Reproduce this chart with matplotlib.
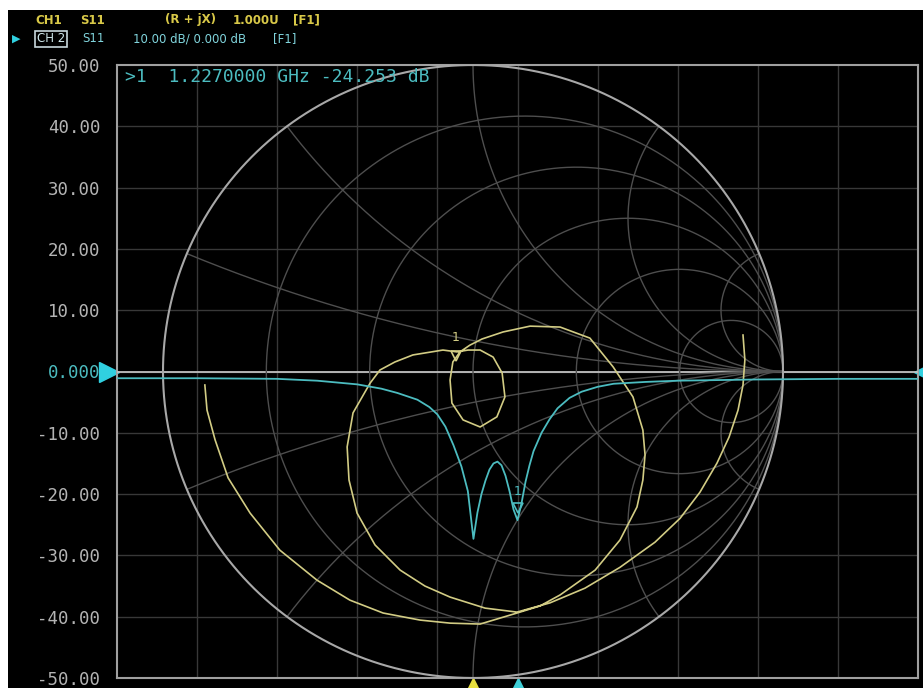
import matplotlib
matplotlib.use("Agg")
import matplotlib.pyplot as plt
import numpy as np
from matplotlib.patches import Rectangle

# screen size in pixels
W, H = 923, 688

# CH2: S11 log magnitude, x in graticule divisions (0..10)
logmag_div = [0.0, 1.0, 2.0, 2.5, 3.0, 3.3, 3.5, 3.75, 3.9, 4.0, 4.1, 4.2, 4.3,
              4.38, 4.45, 4.5, 4.55, 4.6, 4.65, 4.7, 4.75, 4.8, 4.85, 4.9, 4.95,
              5.0, 5.05, 5.1, 5.15, 5.2, 5.3, 5.4, 5.5, 5.65, 5.8, 6.0, 6.2,
              6.6, 7.0, 8.0, 9.0, 10.0]
logmag_db = [-1.1, -1.1, -1.2, -1.5, -2.1, -2.8, -3.5, -4.6, -5.8, -7.0, -9.0,
             -12.0, -15.5, -19.5, -27.3, -23.0, -20.0, -17.8, -16.0, -15.0,
             -14.7, -15.3, -17.0, -19.5, -22.5, -24.253, -21.5, -18.0, -15.3,
             -13.0, -10.0, -7.8, -6.0, -4.3, -3.3, -2.5, -2.0, -1.7, -1.5,
             -1.3, -1.2, -1.2]

# CH1: S11 on the Smith chart (real / imaginary part of the reflection coefficient)
smith_re = [0.871, 0.877, 0.871, 0.855, 0.826, 0.787, 0.732, 0.668, 0.587, 0.474,
            0.361, 0.248, 0.142, 0.039, -0.074, -0.155, -0.235, -0.316, -0.374,
            -0.400, -0.406, -0.387, -0.332, -0.300, -0.252, -0.194, -0.097,
            -0.052, -0.016, 0.023, 0.065, 0.094, 0.103, 0.077, 0.023, -0.032,
            -0.068, -0.074, -0.065, -0.042, -0.010, 0.029, 0.097, 0.184, 0.281,
            0.377, 0.452, 0.516, 0.548, 0.555, 0.548, 0.529, 0.474, 0.394, 0.281,
            0.216, 0.142, 0.023, -0.074, -0.171, -0.290, -0.397, -0.503, -0.623,
            -0.719, -0.790, -0.832, -0.858, -0.865]
smith_im = [0.119, 0.038, -0.044, -0.126, -0.214, -0.299, -0.394, -0.479, -0.557,
            -0.639, -0.707, -0.755, -0.785, -0.772, -0.736, -0.700, -0.648,
            -0.566, -0.462, -0.354, -0.246, -0.135, -0.038, 0.005, 0.031, 0.054,
            0.070, 0.064, 0.070, 0.070, 0.047, -0.005, -0.083, -0.148, -0.181,
            -0.158, -0.103, -0.028, 0.031, 0.064, 0.086, 0.106, 0.129, 0.148,
            0.145, 0.109, 0.015, -0.083, -0.191, -0.272, -0.354, -0.442, -0.550,
            -0.648, -0.729, -0.765, -0.788, -0.824, -0.821, -0.811, -0.788,
            -0.746, -0.681, -0.583, -0.462, -0.347, -0.223, -0.126, -0.044]

y_ticks = [50, 40, 30, 20, 10, 0, -10, -20, -30, -40, -50]
y_labels = ["50.00", "40.00", "30.00", "20.00", "10.00", "0.000",
            "-10.00", "-20.00", "-30.00", "-40.00", "-50.00"]

r_circles = [0.2, 0.5, 1.0, 2.0, 5.0]
x_arcs = [0.2, 0.5, 1.0, 2.0, 5.0]

marker_div = 5.0
marker_db = -24.253
marker_freq = "1.2270000 GHz"
smith_marker = (-0.055, 0.015)
stim_markers = {"#e8e040": 4.45, "#40d0d8": 5.0}

CYAN = "#4cbcc0"
YEL = "#d2cc84"
MONO = "DejaVu Sans Mono"


def px(x, y):
    # pixel position -> figure fraction
    return x / W, 1 - y / H


fig = plt.figure(figsize=(W / 100, H / 100), dpi=100, facecolor="white")
fig.add_artist(Rectangle((8 / W, 0), 1, 1 - 10 / H, transform=fig.transFigure,
                         facecolor="black", edgecolor="none", zorder=-10))

left, top, right, bottom = 117, 65, 918, 678
rect = [left / W, 1 - bottom / H, (right - left) / W, (bottom - top) / H]

ax = fig.add_axes(rect)
ax.set_facecolor("black")
ax.set_xlim(0, 10)
ax.set_ylim(-50, 50)
for i in range(1, 10):
    ax.axvline(i, color="#383838", lw=1)
for v in y_ticks[1:-1]:
    ax.axhline(v, color="#383838", lw=1)
ax.axhline(0, color="#c0c0c0", lw=1.3, zorder=3)
for s in ax.spines.values():
    s.set_color("#a0a0a0")
    s.set_linewidth(1.5)
ax.set_xticks([])
ax.set_yticks(y_ticks, labels=y_labels)
ax.tick_params(axis="y", length=0, pad=12, labelsize=12.5, labelcolor="#b4b4b4")
for lab in ax.get_yticklabels():
    lab.set_family(MONO)
ax.get_yticklabels()[5].set_color(CYAN)

# Smith chart overlay, centred at (473, 371.5) px with radius ~310 px
sax = fig.add_axes(rect)
sax.patch.set_alpha(0)
sax.axis("off")
sax.set_xlim((left - 473) / 310, (right - 473) / 310)
sax.set_ylim(-1, 1)

th = np.linspace(-np.pi / 2 + 1e-3, np.pi / 2 - 1e-3, 600)
for r in r_circles:
    z = r + 1j * np.tan(th)
    g = (z - 1) / (z + 1)
    sax.plot(g.real, g.imag, color="#4e4e4e", lw=1)
th2 = np.linspace(0, np.pi / 2 - 1e-3, 400)
for xv in x_arcs:
    for sgn in (1, -1):
        z = np.tan(th2) + 1j * sgn * xv
        g = (z - 1) / (z + 1)
        sax.plot(g.real, g.imag, color="#4e4e4e", lw=1)
t = np.linspace(0, 2 * np.pi, 500)
sax.plot(np.cos(t), np.sin(t), color="#a8a8a8", lw=1.5)

sax.plot(smith_re, smith_im, color=YEL, lw=1.2, zorder=5)
sax.plot([smith_marker[0]], [smith_marker[1] + 0.035], marker="v", ms=7,
         mfc="none", mec=YEL, mew=1.2, zorder=6)
sax.text(smith_marker[0], smith_marker[1] + 0.075, "1", color=YEL, fontsize=9,
         ha="center", va="bottom", zorder=6)

# log magnitude trace drawn on top, in the dB axes coordinates
sax.plot(logmag_div, logmag_db, color=CYAN, lw=1.3, zorder=7, transform=ax.transData)
sax.plot([marker_div], [marker_db + 2.0], marker="v", ms=7, mfc="none", mec=CYAN,
         mew=1.2, zorder=8, transform=ax.transData)
sax.text(marker_div, marker_db + 3.6, "1", color=CYAN, fontsize=9, ha="center",
         va="bottom", zorder=8, transform=ax.transData)

# reference / stimulus triangles
ax.plot([-0.010], [0], marker=">", ms=15, color="#30d0e0", clip_on=False,
        transform=ax.get_yaxis_transform())
ax.plot([1.006], [0], marker="<", ms=13, color="#30d0e0", clip_on=False,
        transform=ax.get_yaxis_transform())
for c, d in stim_markers.items():
    ax.plot([d], [-51.6], marker="^", ms=14, color=c, clip_on=False)

# marker readout
fig.text(*px(125, 77), f">1  {marker_freq} {marker_db:.3f} dB", color=CYAN,
         family=MONO, fontsize=13, va="center", ha="left")

# header lines
hy1, hy2 = 20, 39
hcol1 = "#d8c848"
for x0, s in [(35, "CH1"), (80, "S11"), (165, "(R + jX)"), (233, "1.000U"), (293, "[F1]")]:
    fig.text(*px(x0, hy1), s, color=hcol1, fontsize=8.5, va="center", ha="left",
             fontweight="bold")
hcol2 = "#80d4dc"
fig.text(*px(37, hy2), "CH 2", color="#d0e8ec", fontsize=8.5, va="center", ha="left",
         bbox=dict(boxstyle="square,pad=0.15", fc="none", ec="#c8d8dc", lw=1.2))
for x0, s in [(82, "S11"), (133, "10.00 dB/ 0.000 dB"), (273, "[F1]")]:
    fig.text(*px(x0, hy2), s, color=hcol2, fontsize=8.5, va="center", ha="left")
fig.text(*px(12, hy2), "\u25B6", color="#30d0e0", fontsize=8, va="center", ha="left")

fig.savefig("out.png", dpi=100, facecolor=fig.get_facecolor())
